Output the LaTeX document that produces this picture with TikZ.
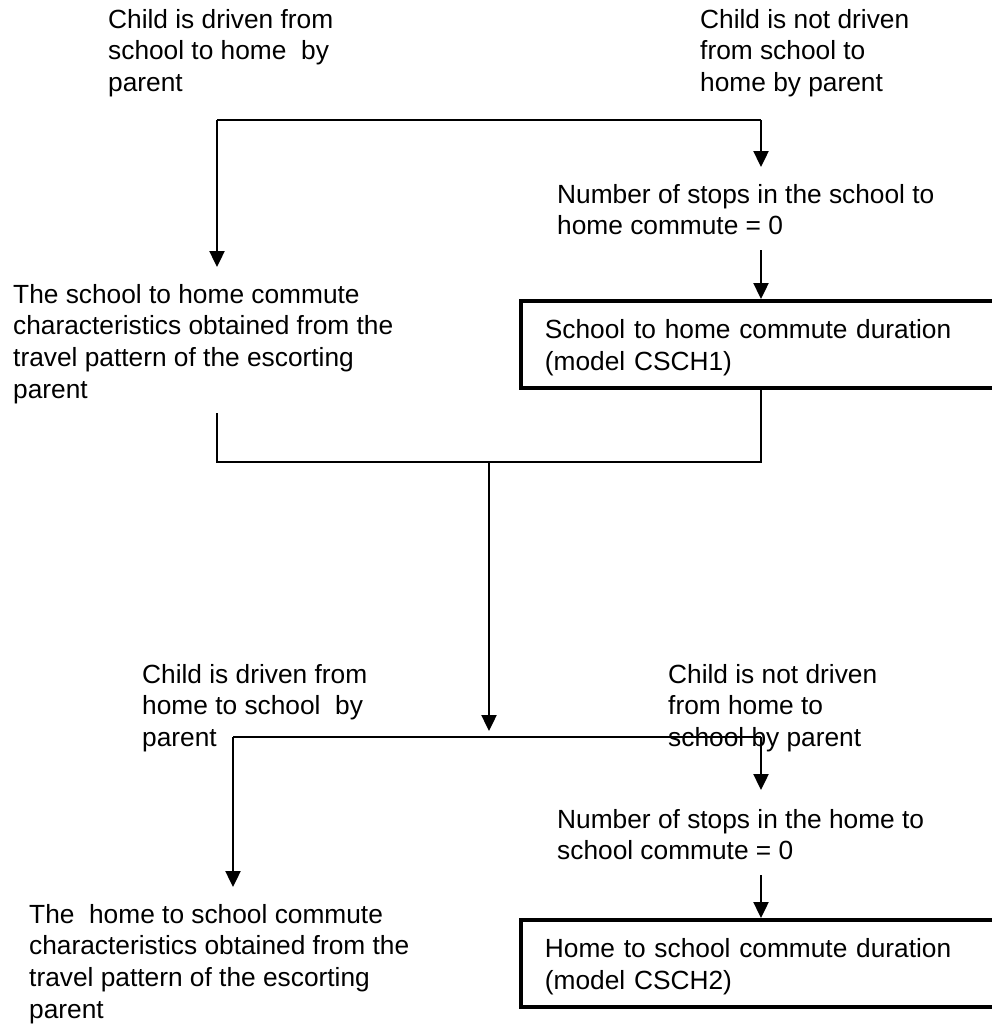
\documentclass[tikz,border=0pt]{standalone}
\usepackage{fontspec}
\setmainfont{Liberation Sans}
\usetikzlibrary{arrows.meta}
\newcommand\labelfont{\fontsize{26.3}{31.7}\selectfont}
\newcommand\firstline{\rule{0pt}{22pt}}
\newcommand\boxtop{\rule{0pt}{28.7pt}}
\newcommand\boxbottom{\rule[-8pt]{0pt}{8pt}}
\tikzset{
  label text/.style={anchor=north west, inner sep=0pt, align=left, font=\labelfont},
  model box/.style={draw, line width=3.8pt, anchor=north west, inner xsep=24pt,
    inner ysep=0pt, text width=452pt, minimum height=87pt, align=left, font=\labelfont},
  flow/.style={line width=2.4pt, -{Triangle[width=15pt,length=16pt]}},
  branch/.style={line width=2.4pt},
  merge/.style={line width=1.8pt}
}
\begin{document}
\begin{tikzpicture}[x=1pt,y=-1pt]
\useasboundingbox (0,0) rectangle (992,1025);

% ---- school to home part ----
\node[label text] (drivenA) at (108,6) {\firstline Child is driven from\\school to home~ by\\parent};
\node[label text] (notdrivenA) at (700,6) {\firstline Child is not driven\\from school to\\home by parent};
\node[label text] (stopsA) at (557,181) {\firstline Number of stops in the school to\\home commute = 0};
\node[model box] (durA) at (519,299) {\boxtop School to home commute duration\\(model CSCH1)\boxbottom};
\node[label text] (escortA) at (13,281) {\firstline The school to home commute\\characteristics obtained from the\\travel pattern of the escorting\\parent};

\coordinate (splitL) at (217,120);
\coordinate (splitR) at (761,120);
\coordinate (tipL) at (217,267);
\coordinate (tipR) at (761,167);
\coordinate (stopsAout) at (761,250);
\coordinate (joinL) at (217,413);
\coordinate (cornerL) at (217,462);
\coordinate (cornerR) at (761,462);
\coordinate (joinMid) at (489,462);

\draw[branch] (splitL) -- (splitR);
\draw[flow] (splitL) -- (tipL);
\draw[flow] (splitR) -- (tipR);
\draw[flow] (stopsAout) -- (stopsAout |- durA.north);
\draw[merge] (joinL) -- (cornerL) -- (cornerR) -- (cornerR |- durA.south);

% ---- home to school part ----
\node[label text] (drivenB) at (142,661) {\firstline Child is driven from\\home to school~ by\\parent};
\node[label text] (notdrivenB) at (668,661) {\firstline Child is not driven\\from home to\\school by parent};
\node[label text] (stopsB) at (557,806) {\firstline Number of stops in the home to\\school commute = 0};
\node[model box] (durB) at (519,918) {\boxtop Home to school commute duration\\(model CSCH2)\boxbottom};
\node[label text] (escortB) at (29,901) {\firstline The~ home to school commute\\characteristics obtained from the\\travel pattern of the escorting\\parent};

\coordinate (midTip) at (489,731);
\coordinate (splitL2) at (233,737);
\coordinate (splitR2) at (761,737);
\coordinate (tipL2) at (233,887);
\coordinate (tipR2) at (761,790);
\coordinate (stopsBout) at (761,875);

\draw[flow] (joinMid) -- (midTip);
\draw[branch] (splitL2) -- (splitR2);
\draw[flow] (splitL2) -- (tipL2);
\draw[flow] (splitR2) -- (tipR2);
\draw[flow] (stopsBout) -- (stopsBout |- durB.north);
\end{tikzpicture}
\end{document}
